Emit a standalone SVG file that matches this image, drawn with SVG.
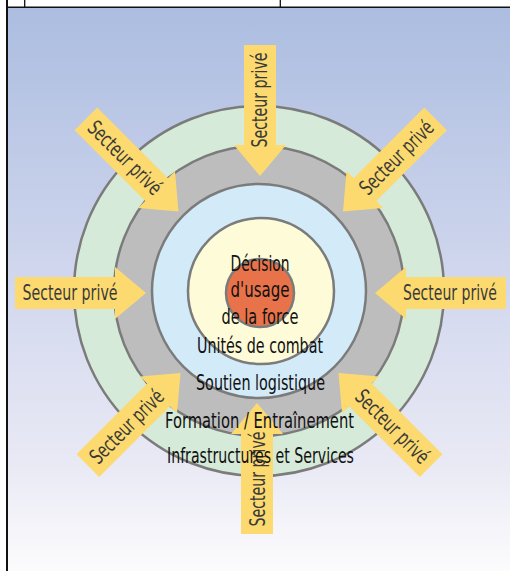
<svg xmlns="http://www.w3.org/2000/svg" width="510" height="571" viewBox="0 0 510 571">
<defs>
<linearGradient id="bg" x1="0" y1="0" x2="0" y2="1">
<stop offset="0" stop-color="#ACBDE0"/>
<stop offset="0.5" stop-color="#D2D8EE"/>
<stop offset="0.82" stop-color="#EAEAF5"/>
<stop offset="1" stop-color="#FCFCFD"/>
</linearGradient>
<polygon id="arrow" points="-131,-16 -31,-16 -31,-26 0,0 -31,26 -31,16 -131,16"/>
</defs>
<style>
.ring{stroke:#7B7B7B;stroke-width:2.5}
.arr{fill:#FDDA6F}
.at{font-family:"Liberation Sans Narrow","DejaVu Sans Condensed","Liberation Sans",sans-serif;font-stretch:condensed;font-size:21px;fill:#3A3A3A;text-anchor:middle}
.ct{font-family:"Liberation Sans Narrow","DejaVu Sans Condensed","Liberation Sans",sans-serif;font-stretch:condensed;font-size:22px;fill:#111;text-anchor:middle}
</style>
<rect x="0" y="0" width="510" height="8" fill="#FFFFFF"/>
<rect x="8" y="8" width="502" height="563" fill="url(#bg)"/>
<g stroke="#111" fill="none">
<line x1="7" y1="0" x2="7" y2="571" stroke-width="2"/>
<line x1="7" y1="7.3" x2="510" y2="7.3" stroke-width="1.5"/>
<line x1="24.7" y1="0" x2="24.7" y2="7" stroke-width="1.3"/>
<line x1="280.3" y1="0" x2="280.3" y2="7" stroke-width="1.3"/>
</g>
<g id="rings">
<circle id="ring-infra" class="ring" cx="259" cy="291" r="185" fill="#D5EAD8"/>
<circle id="ring-formation" class="ring" cx="259" cy="291" r="145" fill="#BDBDBD"/>
<circle id="ring-soutien" class="ring" cx="259" cy="291" r="107" fill="#D3EAF8"/>
<circle id="ring-unites" class="ring" cx="261" cy="291" r="73" fill="#FEFBD8"/>
<circle id="ring-decision" class="ring" cx="260" cy="293" r="34" fill="#E8734A"/>
</g>
<g id="connectors">
<g id="arrow-top"><use href="#arrow" class="arr" transform="translate(260,176) rotate(90)"/><text class="at" transform="translate(260,100) rotate(-90)" x="0" y="7" textLength="95" lengthAdjust="spacingAndGlyphs">Secteur privé</text></g>
<g id="arrow-bottom"><use href="#arrow" class="arr" transform="translate(257,403) rotate(-90)"/><text class="at" transform="translate(257,479) rotate(-90)" x="0" y="8" textLength="95" lengthAdjust="spacingAndGlyphs">Secteur privé</text></g>
<g id="arrow-left"><use href="#arrow" class="arr" transform="translate(146,293)"/><text class="at" transform="translate(70,293)" x="0" y="7" textLength="95" lengthAdjust="spacingAndGlyphs">Secteur privé</text></g>
<g id="arrow-right"><use href="#arrow" class="arr" transform="translate(375,293) rotate(180)"/><text class="at" transform="translate(450,293) scale(1,1.3)" x="0" y="5.4" style="font-size:16px" textLength="94" lengthAdjust="spacingAndGlyphs">Secteur privé</text></g>
<g id="arrow-ul"><use href="#arrow" class="arr" transform="translate(178.5,211.5) rotate(45)"/><text class="at" transform="translate(124.8,157.8) rotate(45)" x="0" y="7" textLength="95" lengthAdjust="spacingAndGlyphs">Secteur privé</text></g>
<g id="arrow-ur"><use href="#arrow" class="arr" transform="translate(343,211.5) rotate(135)"/><text class="at" transform="translate(396.7,157.8) rotate(-45)" x="0" y="7" textLength="95" lengthAdjust="spacingAndGlyphs">Secteur privé</text></g>
<g id="arrow-ll"><use href="#arrow" class="arr" transform="translate(180.5,373) rotate(-45)"/><text class="at" transform="translate(126.8,426.7) rotate(-45)" x="0" y="7" textLength="95" lengthAdjust="spacingAndGlyphs">Secteur privé</text></g>
<g id="arrow-lr"><use href="#arrow" class="arr" transform="translate(338.5,373) rotate(-135)"/><text class="at" transform="translate(392.2,426.7) rotate(45)" x="0" y="7" textLength="95" lengthAdjust="spacingAndGlyphs">Secteur privé</text></g>
</g>
<g id="labels">
<text class="ct" x="260" y="271" textLength="59" lengthAdjust="spacingAndGlyphs">Décision</text>
<text class="ct" x="260" y="297" textLength="59" lengthAdjust="spacingAndGlyphs">d'usage</text>
<text class="ct" x="260" y="324" textLength="77" lengthAdjust="spacingAndGlyphs">de la force</text>
<text class="ct" x="260" y="353" textLength="126" lengthAdjust="spacingAndGlyphs">Unités de combat</text>
<text class="ct" x="260.5" y="390" textLength="129" lengthAdjust="spacingAndGlyphs">Soutien logistique</text>
<text class="ct" x="259.5" y="428" textLength="189" lengthAdjust="spacingAndGlyphs">Formation / Entraînement</text>
<text class="ct" x="260.5" y="463" textLength="187" lengthAdjust="spacingAndGlyphs">Infrastructures et Services</text>
</g>
</svg>
